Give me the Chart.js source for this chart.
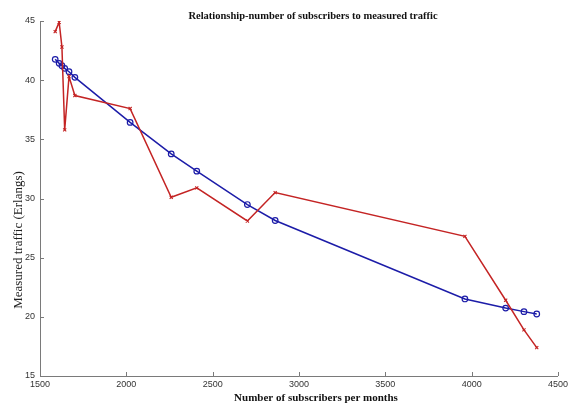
<!DOCTYPE html>
<html>
<head>
<meta charset="utf-8">
<script src="https://cdn.jsdelivr.net/npm/chart.js@4/dist/chart.umd.min.js"></script>
<style>
  html, body { margin: 0; padding: 0; background: #fff; }
  canvas { display: block; }
</style>
</head>
<body>
<canvas id="chart" width="571" height="410"></canvas>
<script>
// Subscribers per month (x) with measured and fitted traffic (y, Erlangs)
const subscribers     = [1588, 1611, 1627, 1643, 1668, 1702, 2022, 2260, 2408, 2701, 2862, 3961, 4197, 4303, 4377];
const measuredTraffic = [44.1, 44.9, 42.8, 35.8, 40.3, 38.7, 37.6, 30.1, 30.9, 28.1, 30.5, 26.8, 21.4, 18.9, 17.4];
const fittedTraffic   = [41.76, 41.42, 41.22, 41.0, 40.71, 40.24, 36.43, 33.77, 32.31, 29.49, 28.14, 21.51, 20.74, 20.44, 20.24];

const xTicks = [1500, 2000, 2500, 3000, 3500, 4000, 4500];
const yTicks = [15, 20, 25, 30, 35, 40, 45];

const titleText  = 'Relationship-number of subscribers to measured traffic';
const xAxisLabel = 'Number of subscribers per months';
const yAxisLabel = 'Measured traffic (Erlangs)';

const toPoints = (xs, ys) => xs.map((x, i) => ({ x, y: ys[i] }));

// Axis lines, inward tick marks and the serif titles
const axesDecor = {
  id: 'axesDecor',
  afterDraw(chart) {
    const { ctx, chartArea: a, scales: { x, y } } = chart;
    ctx.save();
    ctx.strokeStyle = '#7a7a7a';
    ctx.lineWidth = 1;
    ctx.beginPath();
    ctx.moveTo(a.left + 0.5, a.top);
    ctx.lineTo(a.left + 0.5, a.bottom + 0.5);
    ctx.lineTo(a.right, a.bottom + 0.5);
    xTicks.forEach(v => {
      const px = Math.round(x.getPixelForValue(v)) + 0.5;
      ctx.moveTo(px, a.bottom);
      ctx.lineTo(px, a.bottom - 4);
    });
    yTicks.forEach(v => {
      const py = Math.round(y.getPixelForValue(v)) + 0.5;
      ctx.moveTo(a.left, py);
      ctx.lineTo(a.left + 4, py);
    });
    ctx.stroke();

    ctx.fillStyle = '#111';
    ctx.textAlign = 'center';
    ctx.textBaseline = 'middle';
    ctx.font = 'bold 10.5px "Liberation Serif"';
    ctx.fillText(titleText, 313, 16);
    ctx.font = 'bold 11px "Liberation Serif"';
    ctx.fillText(xAxisLabel, 316, 398);

    ctx.font = '13px "Liberation Serif"';
    ctx.fillStyle = '#222';
    ctx.translate(19, 240);
    ctx.rotate(-Math.PI / 2);
    ctx.fillText(yAxisLabel, 0, 0);
    ctx.restore();
  }
};

new Chart(document.getElementById('chart'), {
  type: 'scatter',
  data: {
    datasets: [
      {
        label: 'Measured',
        data: toPoints(subscribers, measuredTraffic),
        showLine: true,
        borderColor: '#c42424',
        backgroundColor: '#c42424',
        borderWidth: 1.5,
        pointStyle: 'crossRot',
        pointRadius: 2.2,
        pointBorderWidth: 1.1,
        tension: 0
      },
      {
        label: 'Fitted',
        data: toPoints(subscribers, fittedTraffic),
        showLine: true,
        borderColor: '#1c1ca8',
        backgroundColor: 'rgba(0,0,0,0)',
        borderWidth: 1.5,
        pointStyle: 'circle',
        pointRadius: 2.8,
        pointBorderWidth: 1.2,
        tension: 0
      }
    ]
  },
  options: {
    responsive: false,
    animation: false,
    layout: { padding: { top: 21, right: 5, left: 0, bottom: 0 } },
    plugins: {
      legend: { display: false },
      title: { display: false },
      tooltip: { enabled: false }
    },
    scales: {
      x: {
        type: 'linear',
        min: 1500,
        max: 4500,
        afterBuildTicks: s => { s.ticks = xTicks.map(v => ({ value: v })); },
        afterFit: s => { s.height = 34; },
        grid: { display: false, drawTicks: false },
        border: { display: false },
        ticks: {
          autoSkip: false,
          maxRotation: 0,
          padding: 3,
          color: '#333',
          callback: v => String(v),
          font: { family: '"Liberation Sans", Arial, sans-serif', size: 9 }
        }
      },
      y: {
        type: 'linear',
        min: 15,
        max: 45,
        afterBuildTicks: s => { s.ticks = yTicks.map(v => ({ value: v })); },
        afterFit: s => { s.width = 40; },
        grid: { display: false, drawTicks: false },
        border: { display: false },
        ticks: {
          padding: 5,
          color: '#333',
          callback: v => String(v),
          font: { family: '"Liberation Sans", Arial, sans-serif', size: 9 }
        }
      }
    }
  },
  plugins: [axesDecor]
});
</script>
</body>
</html>
